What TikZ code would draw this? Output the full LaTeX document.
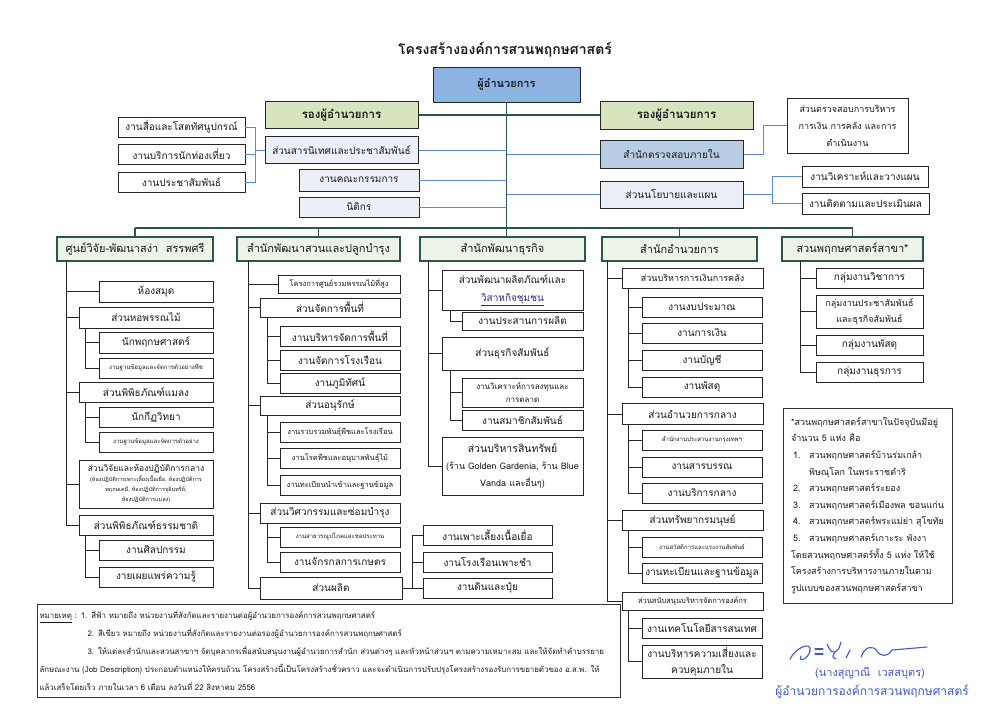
\documentclass[tikz,border=0pt]{standalone}
\usepackage{fontspec}
\setmainfont[Script=Thai]{Loma}
\usepackage{tikz}
\usetikzlibrary{calc}
\definecolor{dirblue}{HTML}{8DB3E2}
\definecolor{vicegreen}{HTML}{D7E4BD}
\definecolor{auditblue}{HTML}{B8CCE4}
\definecolor{paleblue}{HTML}{ECF0F6}
\definecolor{headfill}{HTML}{EEF3E8}
\definecolor{trunkgreen}{HTML}{2E5646}
\definecolor{linkblue}{HTML}{5B8BC9}
\definecolor{signblue}{HTML}{3D5BC4}
\definecolor{navytext}{HTML}{2A2A8A}

\begin{document}
\begin{tikzpicture}[x=1pt,y=-1pt,
  unit/.style={draw=black!85, line width=0.6pt, fill=white, inner sep=0pt, align=center, text=black!90, font=\fontsize{10}{12}\selectfont},
  sect/.style={unit, line width=1pt},
  head/.style={unit, draw=trunkgreen, line width=1.3pt, fill=headfill, minimum height=24, font=\fontsize{11}{13}\selectfont},
  fsmall/.style={font=\fontsize{7.5}{9}\selectfont},
  ftiny/.style={font=\fontsize{6}{7}\selectfont},
  conn/.style={draw=black!85, line width=0.8pt},
  bconn/.style={draw=linkblue, line width=0.9pt},
  trunk/.style={draw=trunkgreen, line width=1.6pt},
  sig/.style={draw=signblue, line width=1.1pt, line cap=round}]
  \useasboundingbox (0,0) rectangle (1000,707);

  \node[font=\fontsize{14}{16}\selectfont\bfseries, text=black!90] (title) at (505,50) {โครงสร้างองค์การสวนพฤกษศาสตร์};

  % top level
  \node[unit, fill=dirblue, line width=1pt, minimum width=147, minimum height=35, font=\fontsize{11}{13}\selectfont\bfseries] (dir) at (506.5,84.5) {ผู้อำนวยการ};
  \node[sect, fill=vicegreen, minimum width=153, minimum height=27, font=\fontsize{11.5}{13}\selectfont\bfseries] (vdl) at (341.5,115) {รองผู้อำนวยการ};
  \node[sect, fill=vicegreen, minimum width=153, minimum height=28, font=\fontsize{11.5}{13}\selectfont\bfseries] (vdr) at (676.5,115) {รองผู้อำนวยการ};
  \node[sect, fill=paleblue, minimum width=153, minimum height=27] (pr) at (341.5,150) {ส่วนสารนิเทศและประชาสัมพันธ์};
  \node[unit, fill=paleblue, minimum width=120, minimum height=22] (com) at (359,180) {งานคณะกรรมการ};
  \node[unit, fill=paleblue, minimum width=120, minimum height=20] (law) at (359,207) {นิติกร};
  \node[unit, minimum width=127, minimum height=20] (media) at (181.5,127) {งานสื่อและโสตทัศนูปกรณ์};
  \node[unit, minimum width=127, minimum height=20] (tour) at (181.5,154) {งานบริการนักท่องเที่ยว};
  \node[unit, minimum width=127, minimum height=20] (pubrel) at (181.5,182) {งานประชาสัมพันธ์};
  \node[sect, fill=auditblue, minimum width=143, minimum height=28] (audit) at (671.5,154) {สำนักตรวจสอบภายใน};
  \node[unit, minimum width=121, minimum height=55, font=\fontsize{9}{17}\selectfont] (auditfin) at (847.5,125.5) {ส่วนตรวจสอบการบริหาร\\การเงิน การคลัง และการ\\ดำเนินงาน};
  \node[sect, fill=paleblue, minimum width=143, minimum height=27] (plan) at (671.5,194.5) {ส่วนนโยบายและแผน};
  \node[unit, minimum width=126, minimum height=21] (anal) at (865,176.5) {งานวิเคราะห์และวางแผน};
  \node[unit, minimum width=127, minimum height=21] (eval) at (865.5,203.5) {งานติดตามและประเมินผล};

  % column heads
  \node[head, minimum width=156] (h1) at (135,249) {ศูนย์วิจัย-พัฒนาสง่า\ \ สรรพศรี};
  \node[head, minimum width=163] (h2) at (318.5,249) {สำนักพัฒนาสวนและปลูกบำรุง};
  \node[head, minimum width=165] (h3) at (502.5,249) {สำนักพัฒนาธุรกิจ};
  \node[head, minimum width=155] (h4) at (679.5,249) {สำนักอำนวยการ};
  \node[head, minimum width=141] (h5) at (852.5,249) {สวนพฤกษศาสตร์สาขา*};

  \coordinate (bus) at (0,228);
  \draw[trunk] (dir.south) -- (dir.south |- h3.north);
  \draw[trunk] (h1.north |- bus) -- (h5.north |- bus);
  \foreach \h in {h1,h2,h4,h5}
  {
  \draw[trunk] (\h.north |- bus) -- (\h.north);
  }
  \draw[trunk] (vdl.east) -- (vdr.west);
  \foreach \n in {pr,com,law}
  {
  \draw[bconn] (\n.east) -- (\n.east -| dir.south);
  }
  \foreach \n in {audit,plan}
  {
  \draw[bconn] (\n.west) -- (\n.west -| dir.south);
  }
  \coordinate (mb) at (255,150);
  \draw[bconn] (pr.west) -- (mb);
  \foreach \n in {media,tour,pubrel}
  {
  \draw[bconn] (mb) |- (\n.east);
  }
  \coordinate (ab) at (763,154);
  \draw[bconn] (audit.east) -- (ab) |- (auditfin.west);
  \coordinate (pb) at (772,194.5);
  \draw[bconn] (plan.east) -- (pb);
  \foreach \n in {anal,eval}
  {
  \draw[bconn] (pb) |- (\n.west);
  }

  % column 1
  \node[unit, minimum width=114, minimum height=21] (lib) at (156,291.5) {ห้องสมุด};
  \node[sect, minimum width=134, minimum height=21] (herb) at (146,317.5) {ส่วนหอพรรณไม้};
  \node[unit, minimum width=114, minimum height=21] (bot) at (156,342.5) {นักพฤกษศาสตร์};
  \node[unit, ftiny, minimum width=114, minimum height=20] (pdb) at (156,368) {งานฐานข้อมูลและจัดการตัวอย่างพืช};
  \node[sect, minimum width=134, minimum height=20] (ent) at (146,392) {ส่วนพิพิธภัณฑ์แมลง};
  \node[unit, minimum width=114, minimum height=20] (ento) at (156,417) {นักกีฏวิทยา};
  \node[unit, ftiny, minimum width=114, minimum height=20] (idb) at (156,442) {งานฐานข้อมูลและจัดการตัวอย่าง};
  \node[sect, minimum width=134, minimum height=48, font=\fontsize{8.5}{10}\selectfont] (lab) at (146,484) {ส่วนวิจัยและห้องปฏิบัติการกลาง\\{\fontsize{5.5}{9}\selectfont (ห้องปฏิบัติการเพาะเลี้ยงเนื้อเยื่อ, ห้องปฏิบัติการ}\\{\fontsize{5.5}{9}\selectfont พฤกษเคมี, ห้องปฏิบัติการจุลินทรีย์,}\\{\fontsize{5.5}{9}\selectfont ห้องปฏิบัติการแมลง)}};
  \node[sect, minimum width=134, minimum height=20] (nat) at (146,525) {ส่วนพิพิธภัณฑ์ธรรมชาติ};
  \node[unit, minimum width=114, minimum height=20] (art) at (156,550) {งานศิลปกรรม};
  \node[unit, minimum width=114, minimum height=20] (know) at (156,577) {งายเผยแพร่ความรู้};
  \coordinate (s1) at (66,261);
  \foreach \n in {lib,herb,ent,lab,nat}
  {
  \draw[conn] (s1) |- (\n.west);
  }
  \coordinate (s1a) at (85,328);
  \coordinate (s1b) at (85,402);
  \coordinate (s1c) at (85,535);
  \foreach \n in {bot,pdb} \draw[conn] (s1a) |- (\n.west);
  \foreach \n in {ento,idb} \draw[conn] (s1b) |- (\n.west);
  \foreach \n in {art,know} \draw[conn] (s1c) |- (\n.west);

  % column 2
  \node[unit, fsmall, minimum width=122, minimum height=18] (hill) at (339,284) {โครงการศูนย์รวมพรรณไม้ที่สูง};
  \node[sect, minimum width=140, minimum height=19] (area) at (330,307.5) {ส่วนจัดการพื้นที่};
  \node[unit, minimum width=120, minimum height=20] (amg) at (340,336) {งานบริหารจัดการพื้นที่};
  \node[unit, minimum width=120, minimum height=20] (house) at (340,360) {งานจัดการโรงเรือน};
  \node[unit, minimum width=120, minimum height=20] (land) at (340,383) {งานภูมิทัศน์};
  \node[sect, minimum width=140, minimum height=19] (cons) at (330,405.5) {ส่วนอนุรักษ์};
  \node[unit, fsmall, minimum width=120, minimum height=20] (coll) at (340,432) {งานรวบรวมพันธุ์พืชและโรงเรือน};
  \node[unit, fsmall, minimum width=120, minimum height=20] (dis) at (340,458) {งานโรคพืชและอนุบาลพันธุ์ไม้};
  \node[unit, fsmall, minimum width=120, minimum height=20] (reg) at (340,485) {งานทะเบียนนำเข้าและฐานข้อมูล};
  \node[sect, minimum width=140, minimum height=20] (eng) at (330,513) {ส่วนวิศวกรรมและซ่อมบำรุง};
  \node[unit, ftiny, minimum width=120, minimum height=20] (util) at (340,537) {งานสาธารณูปโภคและชลประทาน};
  \node[unit, minimum width=120, minimum height=20] (mach) at (340,562) {งานจักรกลการเกษตร};
  \node[sect, minimum width=142, minimum height=22] (prod) at (331,588) {ส่วนผลิต};
  \node[unit, minimum width=129, minimum height=20] (tis) at (487.5,535) {งานเพาะเลี้ยงเนื้อเยื่อ};
  \node[unit, minimum width=129, minimum height=20] (nurs) at (487.5,562) {งานโรงเรือนเพาะชำ};
  \node[unit, minimum width=129, minimum height=20] (soil) at (487.5,588) {งานดินและปุ๋ย};
  \coordinate (s2) at (248,261);
  \foreach \n in {hill,area,cons,eng,prod}
  {
  \draw[conn] (s2) |- (\n.west);
  }
  \coordinate (s2a) at (267,317);
  \coordinate (s2b) at (267,415);
  \coordinate (s2c) at (267,523);
  \foreach \n in {amg,house,land} \draw[conn] (s2a) |- (\n.west);
  \foreach \n in {coll,dis,reg} \draw[conn] (s2b) |- (\n.west);
  \foreach \n in {util,mach} \draw[conn] (s2c) |- (\n.west);
  \coordinate (pb2) at (412,588);
  \draw[conn] (prod.east) -- (pb2);
  \foreach \n in {tis,nurs,soil} \draw[conn] (pb2) |- (\n.west);

  % column 3
  \node[sect, minimum width=141, minimum height=40, font=\fontsize{10}{18}\selectfont] (cprod) at (512.5,290) {ส่วนพัฒนาผลิตภัณฑ์และ\\\textcolor{navytext}{\underline{วิสาหกิจชุมชน}}};
  \node[unit, minimum width=121, minimum height=18] (coord) at (522.5,321) {งานประสานการผลิต};
  \node[sect, minimum width=141, minimum height=33] (bizrel) at (512.5,353.5) {ส่วนธุรกิจสัมพันธ์};
  \node[unit, minimum width=121, minimum height=29, font=\fontsize{8}{13}\selectfont] (invest) at (522.5,392.5) {งานวิเคราะห์การลงทุนและ\\การตลาด};
  \node[unit, minimum width=121, minimum height=20] (member) at (522.5,420) {งานสมาชิกสัมพันธ์};
  \node[sect, minimum width=141, minimum height=58, font=\fontsize{9}{17}\selectfont] (asset) at (512.5,466) {{\fontsize{10.5}{17}\selectfont ส่วนบริหารสินทรัพย์}\\(ร้าน Golden Gardenia, ร้าน Blue\\Vanda และอื่นๆ)};
  \coordinate (s3) at (428,261);
  \foreach \n in {cprod,bizrel,asset}
  {
  \draw[conn] (s3) |- (\n.west);
  }
  \coordinate (s3a) at (450,310);
  \coordinate (s3b) at (450,370);
  \draw[conn] (s3a) |- (coord.west);
  \foreach \n in {invest,member} \draw[conn] (s3b) |- (\n.west);

  % column 4
  \node[sect, minimum width=141, minimum height=20, font=\fontsize{9}{11}\selectfont] (fin) at (692.5,278) {ส่วนบริหารการเงินการคลัง};
  \node[unit, minimum width=120, minimum height=20] (bud) at (702,307) {งานงบประมาณ};
  \node[unit, minimum width=120, minimum height=20] (cash) at (702,333) {งานการเงิน};
  \node[unit, minimum width=120, minimum height=20] (acc) at (702,360) {งานบัญชี};
  \node[unit, minimum width=120, minimum height=20] (parcel) at (702,387) {งานพัสดุ};
  \node[sect, minimum width=141, minimum height=21] (adm) at (692.5,414) {ส่วนอำนวยการกลาง};
  \node[unit, ftiny, minimum width=120, minimum height=20] (bkk) at (702,440) {สำนักงานประสานงานกรุงเทพฯ};
  \node[unit, minimum width=120, minimum height=20] (doc) at (702,467) {งานสารบรรณ};
  \node[unit, minimum width=120, minimum height=20] (gen) at (702,493) {งานบริการกลาง};
  \node[sect, minimum width=141, minimum height=20] (hr) at (692.5,520) {ส่วนทรัพยากรมนุษย์};
  \node[unit, ftiny, minimum width=120, minimum height=20] (welf) at (702,547) {งานสวัสดิการและแรงงานสัมพันธ์};
  \node[unit, minimum width=120, minimum height=20] (hrdb) at (702,573) {งานทะเบียนและฐานข้อมูล};
  \node[sect, fsmall, minimum width=141, minimum height=18] (org) at (692.5,601) {ส่วนสนับสนุนบริหารจัดการองค์กร};
  \node[unit, minimum width=120, minimum height=20] (it) at (702,628) {งานเทคโนโลยีสารสนเทศ};
  \node[unit, minimum width=120, minimum height=33, font=\fontsize{10}{16}\selectfont] (risk) at (702,661.5) {งานบริหารความเสี่ยงและ\\ควบคุมภายใน};
  \coordinate (s4) at (607,261);
  \foreach \n in {fin,adm,hr,org}
  {
  \draw[conn] (s4) |- (\n.west);
  }
  \coordinate (s4a) at (628,288);
  \coordinate (s4b) at (628,425);
  \coordinate (s4c) at (628,530);
  \coordinate (s4d) at (628,610);
  \foreach \n in {bud,cash,acc,parcel} \draw[conn] (s4a) |- (\n.west);
  \foreach \n in {bkk,doc,gen} \draw[conn] (s4b) |- (\n.west);
  \foreach \n in {welf,hrdb} \draw[conn] (s4c) |- (\n.west);
  \foreach \n in {it,risk} \draw[conn] (s4d) |- (\n.west);

  % column 5
  \node[unit, minimum width=107, minimum height=20] (acad) at (869.5,278) {กลุ่มงานวิชาการ};
  \node[unit, minimum width=107, minimum height=33, font=\fontsize{9}{16}\selectfont] (prbiz) at (869.5,311.5) {กลุ่มงานประชาสัมพันธ์\\และธุรกิจสัมพันธ์};
  \node[unit, minimum width=107, minimum height=20] (supg) at (869.5,345) {กลุ่มงานพัสดุ};
  \node[unit, minimum width=107, minimum height=20] (clerk) at (869.5,372) {กลุ่มงานธุรการ};
  \coordinate (s5) at (800,261);
  \foreach \n in {acad,prbiz,supg,clerk}
  {
  \draw[conn] (s5) |- (\n.west);
  }

  % notes
  \node[draw=black!80, line width=0.6pt, minimum width=169, minimum height=195, inner sep=0pt, align=left, text=black!90, font=\fontsize{9}{16.6}\selectfont] (branchnote) at (867.5,505.5) {*สวนพฤกษศาสตร์สาขาในปัจจุบันมีอยู่\\จำนวน 5 แห่ง คือ\\\hspace*{2pt}\makebox[16pt][l]{1.}สวนพฤกษศาสตร์บ้านร่มเกล้า\\\hspace*{18pt}พิษณุโลก ในพระราชดำริ\\\hspace*{2pt}\makebox[16pt][l]{2.}สวนพฤกษศาสตร์ระยอง\\\hspace*{2pt}\makebox[16pt][l]{3.}สวนพฤกษศาสตร์เมืองพล ขอนแก่น\\\hspace*{2pt}\makebox[16pt][l]{4.}สวนพฤกษศาสตร์พระแม่ย่า สุโขทัย\\\hspace*{2pt}\makebox[16pt][l]{5.}สวนพฤกษศาสตร์เกาะระ พังงา\\โดยสวนพฤกษศาสตร์ทั้ง 5 แห่ง ให้ใช้\\โครงสร้างการบริหารงานภายในตาม\\รูปแบบของสวนพฤกษศาสตร์สาขา};
  \node[draw=black!80, line width=0.6pt, minimum width=583, minimum height=93, inner sep=0pt, text width=578, align=left, text=black!90, font=\fontsize{7.9}{18}\selectfont] (remark) at (328.5,650.5) {\underline{หมายเหตุ} : 1. สีฟ้า หมายถึง หน่วยงานที่สังกัดและรายงานต่อผู้อำนวยการองค์การสวนพฤกษศาสตร์\\\hspace*{48pt}2. สีเขียว หมายถึง หน่วยงานที่สังกัดและรายงานต่อรองผู้อำนวยการองค์การสวนพฤกษศาสตร์\\\hspace*{48pt}3. ให้แต่ละสำนักและสวนสาขาฯ จัดบุคลากรเพื่อสนับสนุนงานผู้อำนวยการสำนัก ส่วนต่างๆ และหัวหน้าส่วนฯ ตามความเหมาะสม และให้จัดทำคำบรรยาย\\ลักษณะงาน (Job Description) ประกอบตำแหน่งให้ครบถ้วน โครงสร้างนี้เป็นโครงสร้างชั่วคราว และจะดำเนินการปรับปรุงโครงสร้างรองรับการขยายตัวของ อ.ส.พ. ให้\\แล้วเสร็จโดยเร็ว ภายในเวลา 6 เดือน ลงวันที่ 22 สิงหาคม 2556};

  % signature
  \draw[sig] (790,659) .. controls (796,647) and (812,641) .. (810,651) .. controls (808,659) and (798,663) .. (801,656);
  \draw[sig] (815,649) -- (823,649) (815,654) -- (823,654);
  \draw[sig] (827,644) .. controls (831,652) .. (835,652) .. controls (839,649) .. (841,642);
  \draw[sig] (835,652) .. controls (832,657) .. (836,659);
  \draw[sig] (846,658) -- (850,650);
  \draw[sig] (861,657) .. controls (865,646) and (873,645) .. (877,651) .. controls (881,657) and (888,657) .. (892,650) -- (927,647);
  \node[text=signblue, font=\fontsize{11}{13}\selectfont] (signame) at (870,673) {(นางสุญาณี\ \ เวสสบุตร)};
  \node[text=signblue, font=\fontsize{12}{14}\selectfont] (signpost) at (872,692) {ผู้อำนวยการองค์การสวนพฤกษศาสตร์};
\end{tikzpicture}
\end{document}
